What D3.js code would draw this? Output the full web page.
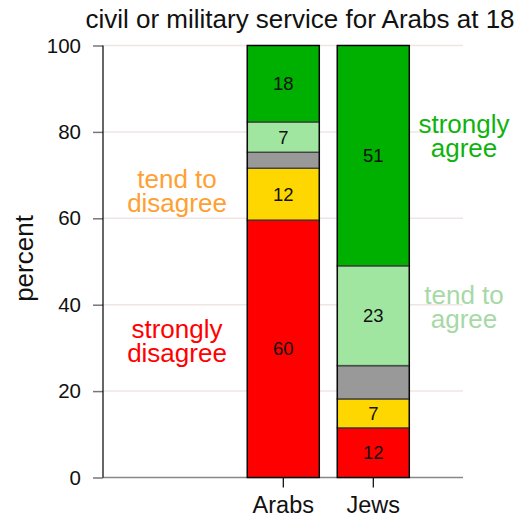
<!DOCTYPE html>
<html>
<head>
<meta charset="utf-8">
<script src="https://cdn.jsdelivr.net/npm/d3@7"></script>
<style>
  html, body { margin: 0; padding: 0; background: #fff; }
  svg { display: block; font-family: "Liberation Sans", Arial, sans-serif; }
</style>
</head>
<body>
<svg id="chart" width="524" height="514"></svg>
<script>
// ---- data ----
const categories = ["Arabs", "Jews"];
const responses = ["strongly disagree", "tend to disagree", "neither", "tend to agree", "strongly agree"];
const arabsValues = [59.6, 12.0, 3.7, 7.0, 17.7];
const jewsValues  = [11.5, 6.7, 7.7, 23.1, 51.0];
const segmentColors = ["#ff0000", "#ffd700", "#999999", "#a0e6a0", "#00b000"];
const showLabel = [true, true, false, true, true];
const yTicks = [0, 20, 40, 60, 80, 100];
const titleText = "civil or military service for Arabs at 18";
const yTitle = "percent";
// annotation: text lines, side anchor, value (first baseline), colour
const annotations = [
  { lines: ["tend to", "disagree"], x: "left", value: 67.0, color: "#ffa033" },
  { lines: ["strongly", "disagree"], x: "left", value: 32.3, color: "#ff0000" },
  { lines: ["strongly", "agree"], x: "right", value: 79.7, color: "#0fb30f" },
  { lines: ["tend to", "agree"], x: "right", value: 40.2, color: "#a6d9a6" }
];

const svg = d3.select("#chart");
const plotLeft = 103, plotRight = 463;
const y = d3.scaleLinear().domain([0, 100]).range([477.5, 45.5]);
const x = d3.scaleBand().domain(categories).range([238.3, 418.3])
  .paddingInner(0.2).paddingOuter(0.1);

// gridlines
svg.append("g").selectAll("line").data(yTicks.filter(d => d > 0)).join("line")
  .attr("x1", plotLeft).attr("x2", plotRight)
  .attr("y1", d => y(d)).attr("y2", d => y(d))
  .attr("stroke", "#efe6e4").attr("stroke-width", 1.5);

// bottom axis line
svg.append("line").attr("x1", plotLeft).attr("x2", plotRight)
  .attr("y1", y(0)).attr("y2", y(0))
  .attr("stroke", "#888").attr("stroke-width", 1.5);

// stacked bars
const seriesByCat = { Arabs: arabsValues, Jews: jewsValues };
categories.forEach(cat => {
  const vals = seriesByCat[cat];
  let cum = 0;
  const segs = vals.map((v, i) => { const s = { y0: cum, y1: cum + v, v, i }; cum += v; return s; });
  const g = svg.append("g");
  g.selectAll("rect").data(segs).join("rect")
    .attr("x", x(cat)).attr("width", x.bandwidth())
    .attr("y", d => y(d.y1)).attr("height", d => y(d.y0) - y(d.y1))
    .attr("fill", d => segmentColors[d.i])
    .attr("stroke", "#333").attr("stroke-opacity", 0.75).attr("stroke-width", 1.5);
  g.append("rect")
    .attr("x", x(cat)).attr("width", x.bandwidth())
    .attr("y", y(cum)).attr("height", y(0) - y(cum))
    .attr("fill", "none").attr("stroke", "#000").attr("stroke-width", 1.2);
  g.selectAll("text").data(segs.filter(d => showLabel[d.i])).join("text")
    .attr("x", x(cat) + x.bandwidth() / 2)
    .attr("y", d => y((d.y0 + d.y1) / 2))
    .attr("dy", "0.35em")
    .attr("text-anchor", "middle")
    .attr("font-size", 18.5).attr("fill", "#111")
    .text(d => Math.round(d.v));
});

// y axis
const yAxis = d3.axisLeft(y).tickValues(yTicks).tickSize(10).tickPadding(12);
const yg = svg.append("g").attr("transform", `translate(${plotLeft},0)`).call(yAxis);
yg.select(".domain").remove();
yg.selectAll(".tick line").attr("stroke", "#777").attr("stroke-width", 1.5);
yg.selectAll(".tick text").attr("font-size", 20.5).attr("fill", "#111")
  .attr("font-family", "Liberation Sans, Arial, sans-serif");
svg.append("line").attr("x1", plotLeft).attr("x2", plotLeft)
  .attr("y1", y(100)).attr("y2", y(0)).attr("stroke", "#000").attr("stroke-width", 1.2);

// x axis
const xAxis = d3.axisBottom(x).tickSize(10).tickPadding(9);
const xg = svg.append("g").attr("transform", `translate(0,${y(0)})`).call(xAxis);
xg.select(".domain").remove();
xg.selectAll(".tick line").attr("stroke", "#000").attr("stroke-width", 1.2);
xg.selectAll(".tick text").attr("font-size", 23.5).attr("fill", "#111")
  .attr("font-family", "Liberation Sans, Arial, sans-serif");

// title
svg.append("text").attr("x", 300).attr("y", 28).attr("text-anchor", "middle")
  .attr("font-size", 26).attr("fill", "#111").text(titleText);

// y title
svg.append("text").attr("transform", "translate(33,258.5) rotate(-90)")
  .attr("text-anchor", "middle").attr("font-size", 26).attr("fill", "#111").text(yTitle);

// annotations
const annX = { left: 177, right: 464 };
annotations.forEach(a => {
  const t = svg.append("text").attr("text-anchor", "middle")
    .attr("font-size", 26).attr("fill", a.color);
  a.lines.forEach((line, i) => {
    t.append("tspan").attr("x", annX[a.x]).attr("y", y(a.value) + i * 24).text(line);
  });
});
</script>
</body>
</html>
